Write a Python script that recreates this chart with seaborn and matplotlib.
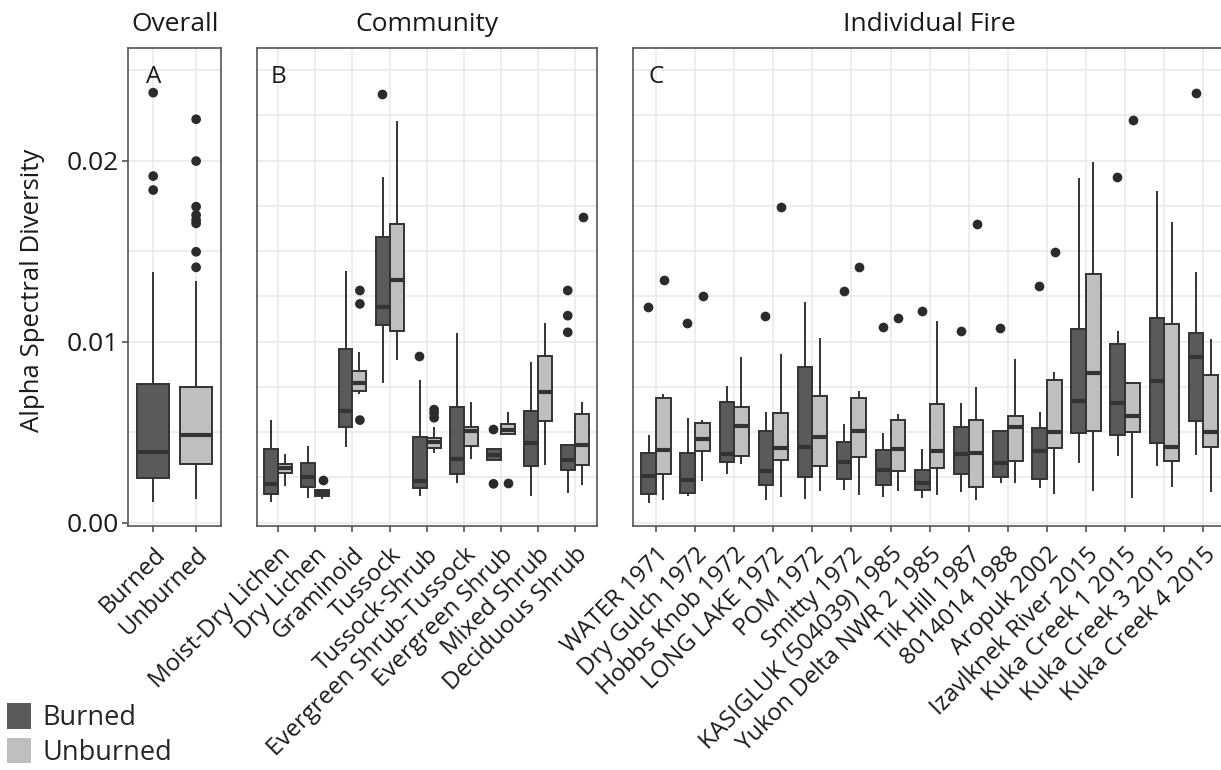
import numpy as np
import pandas as pd
import matplotlib
matplotlib.use("Agg")
import matplotlib.pyplot as plt
from matplotlib.patches import Patch
import seaborn as sns

# ---------------- data ----------------
treatments = ["Burned", "Unburned"]

# Panel A: overall (lo whisker, Q1, median, Q3, hi whisker)
overall_lo = [0.00116, 0.00129]
overall_q1 = [0.00245, 0.00323]
overall_med = [0.00391, 0.00485]
overall_q3 = [0.00765, 0.00748]
overall_hi = [0.01387, 0.01335]
overall_out = [[0.01838, 0.01915, 0.02376],
               [0.01411, 0.01497, 0.01654, 0.01672, 0.01700, 0.01746, 0.01998, 0.02229]]

# Panel B: community
communities = ["Moist-Dry Lichen", "Dry Lichen", "Graminoid", "Tussock", "Tussock-Shrub",
               "Evergreen Shrub-Tussock", "Evergreen Shrub", "Mixed Shrub", "Deciduous Shrub"]
comm_b_lo = [0.00117, 0.00135, 0.00419, 0.00770, 0.00148, 0.00222, 0.00344, 0.00148, 0.00163]
comm_b_q1 = [0.00159, 0.00196, 0.00528, 0.01090, 0.00191, 0.00269, 0.00344, 0.00315, 0.00293]
comm_b_med = [0.00215, 0.00252, 0.00620, 0.01190, 0.00228, 0.00352, 0.00376, 0.00441, 0.00348]
comm_b_q3 = [0.00407, 0.00330, 0.00959, 0.01580, 0.00474, 0.00641, 0.00407, 0.00620, 0.00431]
comm_b_hi = [0.00567, 0.00426, 0.01393, 0.01910, 0.00789, 0.01048, 0.00407, 0.00889, 0.00431]
comm_b_out = [[], [], [], [0.02370], [0.00919], [], [0.00215, 0.00515], [],
              [0.01052, 0.01144, 0.01283]]
comm_u_lo = [0.00204, 0.00130, 0.00710, 0.00900, 0.00385, 0.00352, 0.00491, 0.00320, 0.00209]
comm_u_q1 = [0.00274, 0.00148, 0.00728, 0.01060, 0.00413, 0.00422, 0.00491, 0.00561, 0.00320]
comm_u_med = [0.00302, 0.00167, 0.00774, 0.01340, 0.00444, 0.00506, 0.00511, 0.00724, 0.00431]
comm_u_q3 = [0.00326, 0.00181, 0.00839, 0.01650, 0.00469, 0.00528, 0.00548, 0.00922, 0.00602]
comm_u_hi = [0.00380, 0.00185, 0.00941, 0.02220, 0.00530, 0.00669, 0.00611, 0.01104, 0.00667]
comm_u_out = [[], [0.00237], [0.00567, 0.01209, 0.01283], [], [0.00580, 0.00605, 0.00625],
              [], [0.00222], [], [0.01690]]

# Panel C: individual fire
fires = ["WATER 1971", "Dry Gulch 1972", "Hobbs Knob 1972", "LONG LAKE 1972", "POM 1972",
         "Smitty 1972", "KASIGLUK (504039) 1985", "Yukon Delta NWR 2 1985", "Tik Hill 1987",
         "8014014 1988", "Aropuk 2002", "Izavlknek River 2015", "Kuka Creek 1 2015",
         "Kuka Creek 3 2015", "Kuka Creek 4 2015"]
fire_b_lo = [0.00111, 0.00148, 0.00269, 0.00124, 0.00130, 0.00180, 0.00143, 0.00139,
             0.00172, 0.00217, 0.00191, 0.00330, 0.00370, 0.00315, 0.00376]
fire_b_q1 = [0.00157, 0.00167, 0.00333, 0.00209, 0.00250, 0.00241, 0.00209, 0.00181,
             0.00269, 0.00250, 0.00241, 0.00495, 0.00486, 0.00440, 0.00560]
fire_b_med = [0.00256, 0.00235, 0.00380, 0.00287, 0.00420, 0.00337, 0.00293, 0.00222,
              0.00380, 0.00330, 0.00394, 0.00674, 0.00661, 0.00785, 0.00913]
fire_b_q3 = [0.00383, 0.00383, 0.00667, 0.00509, 0.00861, 0.00448, 0.00402, 0.00293,
             0.00528, 0.00506, 0.00523, 0.01070, 0.00987, 0.01133, 0.01046]
fire_b_hi = [0.00485, 0.00578, 0.00754, 0.00611, 0.01222, 0.00546, 0.00496, 0.00407,
             0.00661, 0.00506, 0.00610, 0.01904, 0.01061, 0.01831, 0.01383]
fire_b_out = [[0.01191], [0.01106], [], [0.01143], [], [0.01281], [0.01080], [0.01170],
              [0.01061], [0.01074], [0.01309], [], [0.01912], [], [0.02376]]
fire_u_lo = [0.00124, 0.00231, 0.00324, 0.00143, 0.00176, 0.00154, 0.00176, 0.00154,
             0.00124, 0.00217, 0.00158, 0.00177, 0.00136, 0.00197, 0.00168]
fire_u_q1 = [0.00269, 0.00394, 0.00367, 0.00348, 0.00315, 0.00365, 0.00287, 0.00302,
             0.00198, 0.00341, 0.00411, 0.00508, 0.00499, 0.00341, 0.00416]
fire_u_med = [0.00404, 0.00463, 0.00533, 0.00413, 0.00472, 0.00506, 0.00407, 0.00394,
              0.00383, 0.00528, 0.00499, 0.00825, 0.00591, 0.00420, 0.00500]
fire_u_q3 = [0.00691, 0.00550, 0.00639, 0.00607, 0.00698, 0.00691, 0.00570, 0.00657,
             0.00569, 0.00588, 0.00790, 0.01374, 0.00770, 0.01096, 0.00818]
fire_u_hi = [0.00713, 0.00570, 0.00913, 0.00931, 0.01019, 0.00728, 0.00598, 0.01117,
             0.00750, 0.00902, 0.00831, 0.01991, 0.00780, 0.01659, 0.01015]
fire_u_out = [[0.01343], [0.01250], [], [0.01746], [], [0.01413], [0.01130], [],
              [0.01649], [], [0.01494], [], [0.02225], [], []]

# ---------------- styling ----------------
fills = {"Burned": "#5a5a5a", "Unburned": "#bfbfbf"}
edge = "#333333"
grid_c = "#ebebeb"
border_c = "#555555"
txt_c = "#1a1a1a"
FS_TICK = 17.3
FS_Y = 19
FS_TITLE = 19
FS_LAB = 18.5
FS_LEG = 19.5

sns.set_theme(style="white")
plt.rcParams["font.family"] = ["Open Sans", "DejaVu Sans"]


def box_frame(cats, stats_b, stats_u):
    """Long table: each box described by its five read values (Q1/Q3 doubled so
    that seaborn's percentile computation returns exactly the read quartiles)."""
    rows = []
    for treat, stats in zip(treatments, (stats_b, stats_u)):
        lo, q1, med, q3, hi = stats
        for i, c in enumerate(cats):
            for v in (lo[i], q1[i], q1[i], med[i], q3[i], q3[i], hi[i]):
                rows.append((c, treat, v))
    return pd.DataFrame(rows, columns=["cat", "treat", "val"])


def out_frame(cats, out_b, out_u):
    rows = []
    for treat, outs in zip(treatments, (out_b, out_u)):
        for c, vals in zip(cats, outs):
            for v in vals:
                rows.append((c, treat, v))
    return pd.DataFrame(rows, columns=["cat", "treat", "val"])


dfA = box_frame(treatments,
                (overall_lo, overall_q1, overall_med, overall_q3, overall_hi),
                (overall_lo, overall_q1, overall_med, overall_q3, overall_hi))
dfA = dfA[dfA["cat"] == dfA["treat"]]
outA = out_frame(treatments, overall_out, overall_out)
outA = outA[outA["cat"] == outA["treat"]]

dfB = box_frame(communities,
                (comm_b_lo, comm_b_q1, comm_b_med, comm_b_q3, comm_b_hi),
                (comm_u_lo, comm_u_q1, comm_u_med, comm_u_q3, comm_u_hi))
outB = out_frame(communities, comm_b_out, comm_u_out)

dfC = box_frame(fires,
                (fire_b_lo, fire_b_q1, fire_b_med, fire_b_q3, fire_b_hi),
                (fire_u_lo, fire_u_q1, fire_u_med, fire_u_q3, fire_u_hi))
outC = out_frame(fires, fire_b_out, fire_u_out)

W, H = 1221, 770
fig = plt.figure(figsize=(W / 100, H / 100), dpi=100)
top_px, bot_px = 48.3, 526.0


def make_ax(left_px, right_px):
    return fig.add_axes([left_px / W, 1 - bot_px / H, (right_px - left_px) / W,
                         (bot_px - top_px) / H])


axA = make_ax(128.3, 221.0)
axB = make_ax(256.7, 596.7)
axC = make_ax(633.3, 1226.0)

YLIM = (-0.00018, 0.02621)


def draw(ax, df, outs, order, dodge, xcol):
    sns.boxplot(data=df, x=xcol, y="val", hue="treat", order=order, hue_order=treatments,
                palette=fills, width=0.75, whis=(0, 100), showfliers=False, showcaps=False,
                linecolor=edge, linewidth=1.4, saturation=1, dodge=dodge,
                medianprops={"linewidth": 3.0, "color": edge},
                legend=False, ax=ax)
    sns.stripplot(data=outs, x=xcol, y="val", hue="treat", order=order,
                  hue_order=treatments, palette={t: "#2b2b2b" for t in treatments},
                  dodge=dodge, jitter=False, size=7.0, linewidth=0, legend=False, ax=ax)
    ax.set_xlabel("")
    ax.set_ylabel("")
    ax.set_ylim(*YLIM)
    ax.set_xlim(-0.58, len(order) - 1 + 0.58)
    ax.set_xticks(range(len(order)))
    ax.set_xticklabels(order, rotation=45, ha="right", rotation_mode="anchor",
                       fontsize=FS_TICK, color=txt_c)
    ax.set_axisbelow(True)
    ax.grid(True, axis="x", which="major", color=grid_c, linewidth=1.2)
    for s in ax.spines.values():
        s.set_visible(True)
        s.set_color(border_c)
        s.set_linewidth(1.2)
    ax.tick_params(axis="x", which="major", length=4, width=1.1, color="#444444",
                   bottom=True, pad=8)


draw(axA, dfA, outA, treatments, False, "cat")
draw(axB, dfB, outB, communities, True, "cat")
draw(axC, dfC, outC, fires, True, "cat")

# y axis: labels only on panel A
axA.set_yticks([0.0, 0.01, 0.02])
axA.set_yticklabels(["0.00", "0.01", "0.02"], fontsize=FS_Y, color=txt_c)
axA.set_yticks([0.005, 0.015, 0.025], minor=True)
axA.tick_params(axis="y", which="major", length=4, width=1.1, color="#444444", left=True,
                pad=3)
axA.tick_params(axis="y", which="minor", length=0)
axA.grid(True, axis="y", which="both", color=grid_c, linewidth=1.2)

for ax in (axB, axC):
    ax.set_yticks([0.0, 0.005, 0.01, 0.015, 0.02, 0.025])
    ax.set_yticks([0.0025, 0.0075, 0.0125, 0.0175, 0.0225], minor=True)
    ax.tick_params(axis="y", which="both", length=0, labelleft=False)
    ax.grid(True, axis="y", which="both", color=grid_c, linewidth=1.2)

# strip titles and panel letters
for ax, title, letter in ((axA, "Overall", "A"), (axB, "Community", "B"),
                          (axC, "Individual Fire", "C")):
    ax.text(0.5, 1 + 24 / (bot_px - top_px), title, transform=ax.transAxes,
            ha="center", va="center", fontsize=FS_TITLE, color=txt_c)
    ax.text(0, 0.02462, letter, ha="center", va="center", fontsize=17.5, color=txt_c)

fig.text(33 / W, 1 - 290 / H, "Alpha Spectral Diversity", rotation=90,
         ha="center", va="center", fontsize=FS_LAB, color=txt_c)

handles = [Patch(facecolor=fills[t], edgecolor="none", label=t) for t in treatments]
fig.legend(handles=handles, loc="lower left", bbox_to_anchor=(7 / W, 3 / H),
           frameon=False, fontsize=FS_LEG, handlelength=0.9, handleheight=1.05,
           handletextpad=0.4, labelspacing=0.22, borderpad=0, borderaxespad=0)

fig.savefig("out.png", dpi=100)
